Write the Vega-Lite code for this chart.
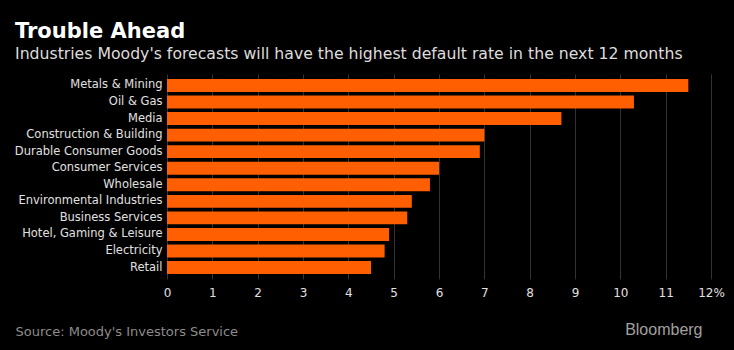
{
  "$schema": "https://vega.github.io/schema/vega-lite/v6.json",
  "width": 544,
  "height": 205,
  "autosize": {"type": "none"},
  "padding": {"left": 167, "top": 74, "right": 23, "bottom": 71},
  "background": "#000000",
  "title": {
    "text": "Trouble Ahead",
    "subtitle": "Industries Moody's forecasts will have the highest default rate in the next 12 months",
    "anchor": "start",
    "frame": "group",
    "dx": -152,
    "offset": 12,
    "font": "DejaVu Sans, sans-serif",
    "fontSize": 21,
    "fontWeight": "bold",
    "color": "#ffffff",
    "subtitleFont": "DejaVu Sans, sans-serif",
    "subtitleFontSize": 15.7,
    "subtitleColor": "#dddddd",
    "subtitlePadding": 5
  },
  "data": {
    "values": [
      {"industry": "Metals & Mining", "rate": 11.5},
      {"industry": "Oil & Gas", "rate": 10.3},
      {"industry": "Media", "rate": 8.7},
      {"industry": "Construction & Building", "rate": 7.0},
      {"industry": "Durable Consumer Goods", "rate": 6.9},
      {"industry": "Consumer Services", "rate": 6.0},
      {"industry": "Wholesale", "rate": 5.8},
      {"industry": "Environmental Industries", "rate": 5.4},
      {"industry": "Business Services", "rate": 5.3},
      {"industry": "Hotel, Gaming & Leisure", "rate": 4.9},
      {"industry": "Electricity", "rate": 4.8},
      {"industry": "Retail", "rate": 4.5}
    ]
  },
  "mark": {"type": "bar", "color": "#ff5f00"},
  "encoding": {
    "y": {
      "field": "industry",
      "type": "nominal",
      "sort": null,
      "scale": {"paddingInner": 0.22, "paddingOuter": 0.3},
      "axis": {
        "title": "Bloomberg",
        "titleAngle": 0,
        "titleX": 535,
        "titleY": 255,
        "titleAlign": "right",
        "titleBaseline": "middle",
        "titleFont": "Liberation Sans, Arial, sans-serif",
        "titleFontSize": 16,
        "titleFontWeight": "normal",
        "titleColor": "#a0a0a0",
        "domain": false,
        "ticks": false,
        "grid": false,
        "labelPadding": 5,
        "labelFont": "DejaVu Sans, sans-serif",
        "labelFontSize": 11.5,
        "labelColor": "#e0e0e0"
      }
    },
    "x": {
      "field": "rate",
      "type": "quantitative",
      "scale": {"domain": [0, 12], "nice": false},
      "axis": {
        "values": [0,1,2,3,4,5,6,7,8,9,10,11,12],
        "labelExpr": "datum.value == 12 ? '12%' : datum.label",
        "labelFlush": false,
        "labelOverlap": false,
        "title": "Source: Moody's Investors Service",
        "titleAnchor": "start",
        "titleAlign": "left",
        "titleX": -152,
        "titleY": 52,
        "titleBaseline": "middle",
        "titleFont": "DejaVu Sans, sans-serif",
        "titleFontSize": 13,
        "titleFontWeight": "normal",
        "titleColor": "#8c8c8c",
        "domain": false,
        "ticks": false,
        "grid": true,
        "gridColor": "#333333",
        "gridWidth": 1,
        "labelPadding": 8,
        "labelFont": "DejaVu Sans, sans-serif",
        "labelFontSize": 12,
        "labelColor": "#e0e0e0"
      }
    }
  },
  "config": {"view": {"stroke": null}}
}
